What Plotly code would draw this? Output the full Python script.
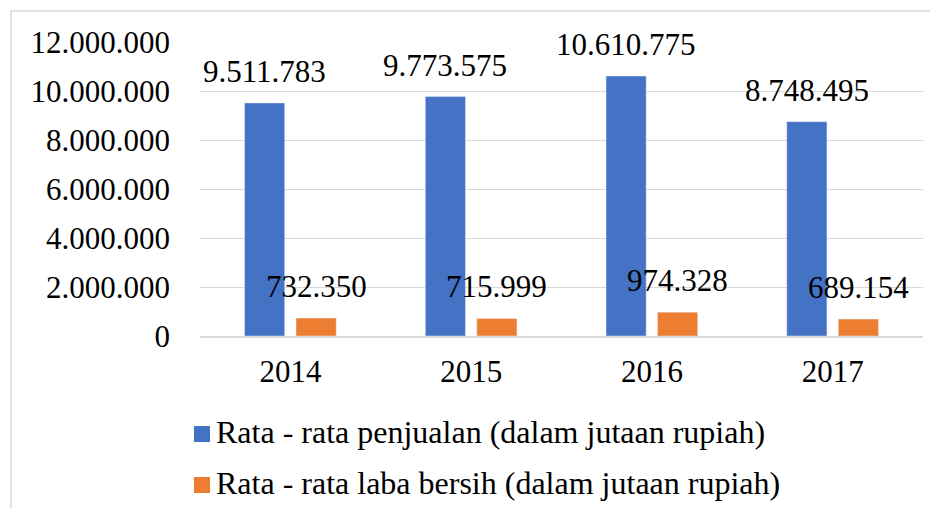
import plotly.graph_objects as go

years = ["2014", "2015", "2016", "2017"]
penjualan = [9511783, 9773575, 10610775, 8748495]
laba = [732350, 715999, 974328, 689154]
name_penjualan = "Rata - rata penjualan (dalam jutaan rupiah)"
name_laba = "Rata - rata laba bersih (dalam jutaan rupiah)"
tick_vals = [0, 2000000, 4000000, 6000000, 8000000, 10000000, 12000000]

BLUE = "#4472C4"
ORANGE = "#ED7D31"
FONT = "Liberation Serif"
FS = 31
LEG_FS = 32
bargap = 0.43
bargroupgap = 0.22

# layout geometry (pixels inside the figure)
W, H = 922, 500
ML, MR, MT, MB = 192, 7, 34, 172
PW, PH = W - ML - MR, H - MT - MB


def px_x(p):
    return (p - ML) / PW


def px_y(p):
    return (H - MB - p) / PH


def fmt(v):
    return f"{v:,}".replace(",", ".")


fig = go.Figure()
fig.add_trace(go.Bar(x=years, y=penjualan, name=name_penjualan, marker_color=BLUE))
fig.add_trace(go.Bar(x=years, y=laba, name=name_laba, marker_color=ORANGE))

slot = (1 - bargap) / 2
annotations = []
for series, off in ((penjualan, -slot / 2), (laba, slot / 2)):
    for i, v in enumerate(series):
        annotations.append(dict(x=i + off, y=v, xref="x", yref="y", text=fmt(v),
                                showarrow=False, yanchor="bottom", yshift=12,
                                font=dict(family=FONT, size=FS, color="black")))

# legend drawn below the plot (two rows, 16px squares)
shapes = [dict(type="rect", xref="paper", yref="paper",
               x0=px_x(3), x1=1.2, y0=-0.8, y1=px_y(3),
               line=dict(color="#d9d9d9", width=1.5), layer="below")]
for row, (name, col) in enumerate(((name_penjualan, BLUE), (name_laba, ORANGE))):
    cy = 426 + row * 51
    shapes.append(dict(type="rect", xref="paper", yref="paper",
                       x0=px_x(186), x1=px_x(202), y0=px_y(cy + 8), y1=px_y(cy - 8),
                       fillcolor=col, line=dict(width=0)))
    annotations.append(dict(x=px_x(206), y=px_y(cy - 2), xref="paper", yref="paper",
                            text=name, showarrow=False, xanchor="left", yanchor="middle",
                            font=dict(family=FONT, size=LEG_FS, color="black")))

fig.update_layout(
    width=W, height=H,
    margin=dict(l=ML, r=MR, t=MT, b=MB),
    paper_bgcolor="white", plot_bgcolor="white",
    font=dict(family=FONT, size=FS, color="black"),
    separators=",.",
    barmode="group", bargap=bargap, bargroupgap=bargroupgap,
    showlegend=False,
    annotations=annotations,
    shapes=shapes,
)
fig.update_yaxes(range=[0, 12000000], tickvals=tick_vals, tickformat=",d",
                 showgrid=True, gridcolor="#d9d9d9", gridwidth=1.3,
                 zeroline=False, showline=False, ticks="", ticklabelstandoff=29,
                 tickfont=dict(family=FONT, size=FS, color="black"))
fig.update_xaxes(showgrid=False, showline=True, linecolor="#d9d9d9", linewidth=1.5,
                 ticks="", ticklabelstandoff=7,
                 tickfont=dict(family=FONT, size=FS, color="black"))

fig.write_html("out.html")
